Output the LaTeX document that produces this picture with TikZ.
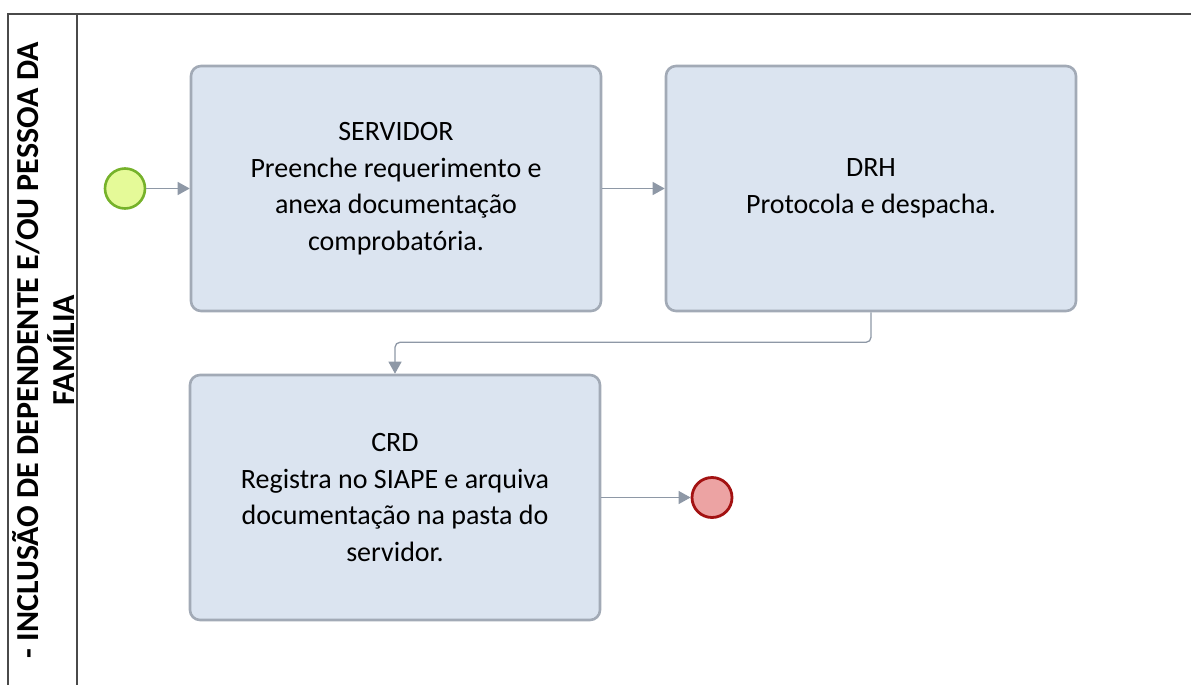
\documentclass[tikz,border=0pt]{standalone}
\usepackage{fontspec}
\setmainfont{Carlito}
\usetikzlibrary{arrows.meta}
\usetikzlibrary{positioning}

\definecolor{taskfill}{HTML}{DBE4F0}
\definecolor{taskdraw}{HTML}{A2AAB6}
\definecolor{flowgray}{HTML}{8E98A6}
\definecolor{startfill}{HTML}{E5FA98}
\definecolor{startdraw}{HTML}{76B22A}
\definecolor{endfill}{HTML}{ECA3A3}
\definecolor{enddraw}{HTML}{A31212}
\definecolor{lanegray}{HTML}{4A4A4A}

\tikzset{
    task/.style={draw=taskdraw, fill=taskfill, line width=2.6pt, rounded corners=10pt,
        minimum width=410pt, minimum height=245pt, align=center,
        font=\fontsize{28}{36.5}\selectfont, text=black},
    startev/.style={circle, draw=startdraw, fill=startfill, line width=2.6pt, minimum size=40pt, inner sep=0pt},
    endev/.style={circle, draw=enddraw, fill=endfill, line width=2.8pt, minimum size=40pt, inner sep=0pt},
    flow/.style={draw=flowgray, line width=1.3pt, -{Triangle[length=12pt, width=13pt]}}
}

\begin{document}
\begin{tikzpicture}[x=1pt, y=-1pt]
        \useasboundingbox (0,0) rectangle (1191,685);

        % Lane frame
        \draw[lanegray, line width=1.6pt] (8,685) -- (8,14) -- (1191,14);
        \draw[lanegray, line width=1.6pt] (77,14) -- (77,685);
        \node[rotate=90, align=center, font=\fontsize{32}{36}\selectfont\bfseries] (lane) at (43,350)
            {- INCLUSÃO DE DEPENDENTE E/OU PESSOA DA\\FAMÍLIA};

        % Events
        \node[startev] (start) at (125,188.5) {};
        \node[endev] (end) at (712,497.5) {};

        % Tasks
        \node[task] (servidor) at (396,188.5) {SERVIDOR\\Preenche requerimento e\\anexa documentação\\comprobatória.};
        \node[task] (drh) at (871,188.5) {DRH\\Protocola e despacha.};
        \node[task] (crd) at (395,497.5) {CRD\\Registra no SIAPE e arquiva\\documentação na pasta do\\servidor.};

        % Sequence flows
        \draw[flow] (start) -- (servidor);
        \draw[flow] (servidor) -- (drh);
        \draw[flow, rounded corners=5pt] (drh.south) -- ++(0,30) -| (crd.north);
        \draw[flow] (crd) -- (end);
    \end{tikzpicture}
\end{document}
